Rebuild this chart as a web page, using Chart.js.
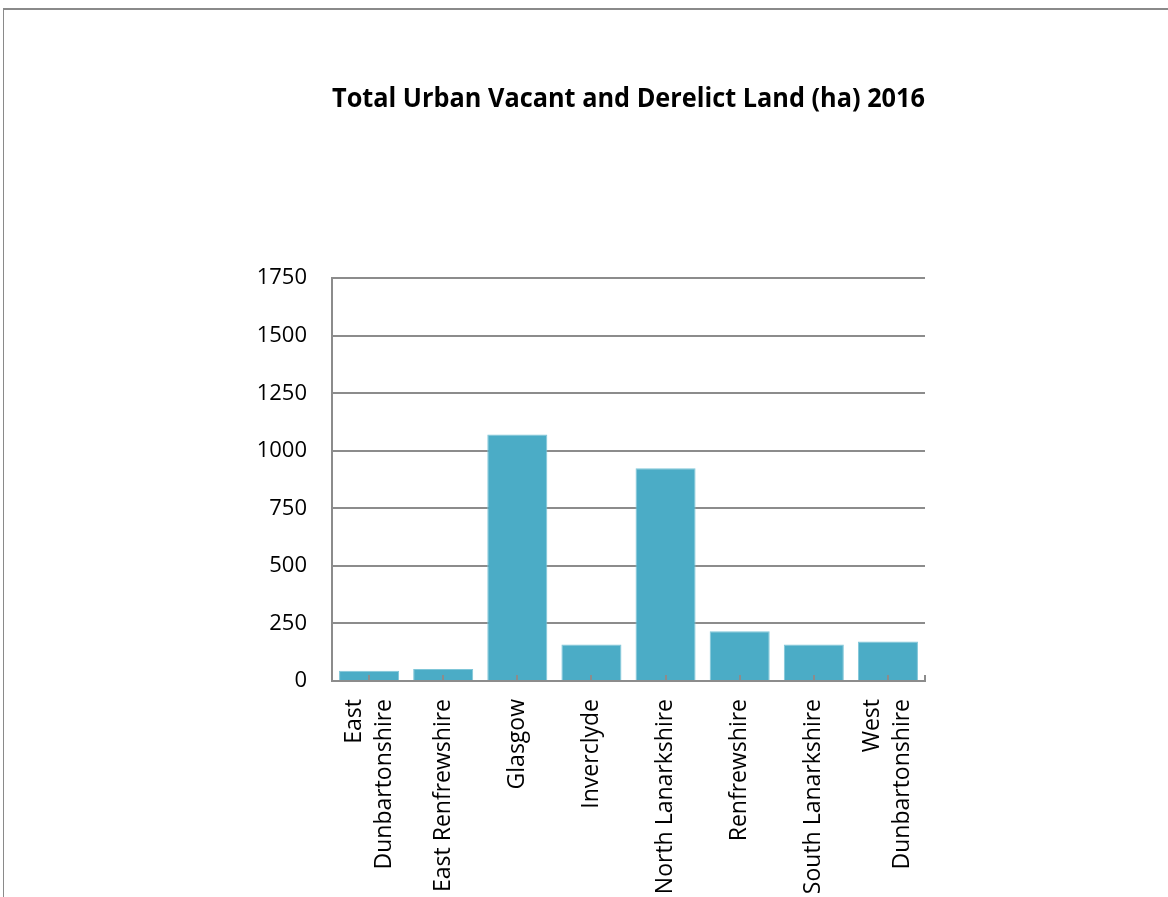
<!doctype html>
<html>
<head>
    <meta charset="utf-8">
    <title>Total Urban Vacant and Derelict Land</title>
    <script src="https://cdn.jsdelivr.net/npm/chart.js@4/dist/chart.umd.min.js"></script>
    <style>
    body { margin: 0; background: #fff; }
    #frame {
        position: absolute; left: 3px; top: 8px; width: 1200px; height: 1000px;
        border-top: 2px solid #8a8a8a; border-left: 1px solid #8a8a8a;
    }
    #holder { position: absolute; left: 0; top: 0; }
    </style>
</head>
<body>
    <div id="frame"></div>
    <div id="holder"><canvas id="vdl" width="1168" height="897"></canvas></div>
    <script>
        // council areas and hectares
        var areas = [
            ["East", "Dunbartonshire"],
            "East Renfrewshire",
            "Glasgow",
            "Inverclyde",
            "North Lanarkshire",
            "Renfrewshire",
            "South Lanarkshire",
            ["West", "Dunbartonshire"]
        ];
        var hectares = [45, 52, 1071, 159, 924, 216, 159, 172];
        var yTicks = [0, 250, 500, 750, 1000, 1250, 1500, 1750];

        var gridCol = '#8c8c8c';
        var labelFont = '23px "Open Sans"';
        var labelLine = 30;

        // little tick marks pointing up from the category axis + rotated category labels
        var axisExtras = {
            id: 'axisExtras',
            afterDatasetsDraw: function(chart) {
                var ctx = chart.ctx, x = chart.scales.x, a = chart.chartArea;
                ctx.save();
                ctx.strokeStyle = gridCol;
                ctx.lineWidth = 2;
                ctx.beginPath();
                for (var i = 0; i < areas.length; i++) {
                    var px = Math.round(x.getPixelForTick(i));
                    ctx.moveTo(px, a.bottom);
                    ctx.lineTo(px, a.bottom - 6);
                }
                ctx.moveTo(a.right, a.bottom);
                ctx.lineTo(a.right, a.bottom - 6);
                ctx.stroke();
                ctx.restore();
            },
            afterDraw: function(chart) {
                var ctx = chart.ctx, x = chart.scales.x, a = chart.chartArea;
                ctx.save();
                ctx.fillStyle = '#000';
                ctx.font = labelFont;
                ctx.textAlign = 'right';
                ctx.textBaseline = 'middle';
                for (var i = 0; i < areas.length; i++) {
                    var lines = [].concat(areas[i]);
                    var px = x.getPixelForTick(i);
                    ctx.save();
                    ctx.translate(px, a.bottom + 18);
                    ctx.rotate(-Math.PI / 2);
                    for (var j = 0; j < lines.length; j++) {
                        var off = (j - (lines.length - 1) / 2) * labelLine;
                        ctx.fillText(lines[j], 0, off);
                    }
                    ctx.restore();
                }
                ctx.restore();
            }
        };

        var ctx = document.getElementById('vdl').getContext('2d');
        new Chart(ctx, {
            type: 'bar',
            data: {
                labels: areas,
                datasets: [{
                    label: 'Total Urban Vacant and Derelict Land (ha)',
                    data: hectares,
                    backgroundColor: '#4bacc6',
                    borderColor: '#7fc6d8',
                    borderWidth: 1,
                    categoryPercentage: 1,
                    barPercentage: 0.81
                }]
            },
            plugins: [axisExtras],
            options: {
                responsive: false,
                animation: false,
                layout: { padding: { left: 0, right: 243, top: 0, bottom: 0 } },
                plugins: {
                    legend: { display: false },
                    tooltip: { enabled: false },
                    title: {
                        display: true,
                        fullSize: false,
                        text: 'Total Urban Vacant and Derelict Land (ha) 2016',
                        color: '#000',
                        font: { family: 'Open Sans', size: 26, weight: 'bold' },
                        padding: { top: 84, bottom: 163 }
                    }
                },
                scales: {
                    x: {
                        afterFit: function(s) { s.height = 216; },
                        grid: { display: false, drawTicks: false },
                        border: { color: gridCol, width: 2 },
                        ticks: { display: false, autoSkip: false }
                    },
                    y: {
                        min: 0,
                        max: 1750,
                        afterFit: function(s) { s.width = 332; },
                        afterBuildTicks: function(s) {
                            s.ticks = yTicks.map(function(v) { return { value: v }; });
                        },
                        grid: { color: gridCol, lineWidth: 2, drawTicks: false },
                        border: { color: gridCol, width: 2 },
                        ticks: {
                            color: '#000',
                            padding: 25,
                            font: { family: 'Open Sans', size: 22 },
                            callback: function(v) { return String(v); }
                        }
                    }
                }
            }
        });
    </script>
</body>
</html>
